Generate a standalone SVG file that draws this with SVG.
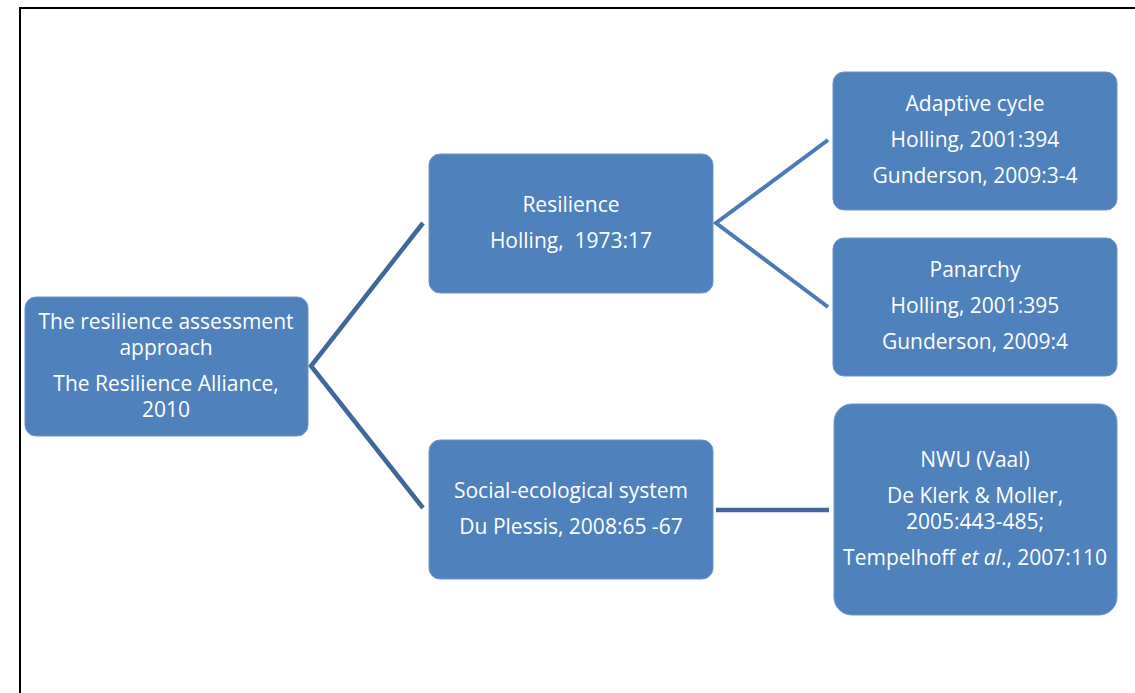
<svg xmlns="http://www.w3.org/2000/svg" width="1135" height="693" viewBox="0 0 1135 693">
<style>
.box{fill:#4f81bd;stroke:#6f95c8;stroke-width:1}
.t{font-family:"Open Sans","Liberation Sans",sans-serif;font-size:21px;fill:#ffffff;text-anchor:middle}
.c1{stroke:#41679a;stroke-width:4.5;fill:none;stroke-linejoin:miter}
.c2{stroke:#4a7ab8;stroke-width:4;fill:none}
</style>
<rect width="1135" height="693" fill="#ffffff"/>
<path d="M20 693 V8 H1135" fill="none" stroke="#000" stroke-width="2"/>
<g id="connectors">
<polyline class="c1" points="423,223 311,366 423,508"/>
<polyline class="c2" points="828,140 716,223 828,307"/>
<line class="c1" x1="716" y1="510" x2="829" y2="510"/>
</g>
<g id="root">
<rect class="box" x="25" y="297" width="283" height="139" rx="11"/>
<text class="t" x="166" y="329">The resilience assessment</text>
<text class="t" x="166" y="355">approach</text>
<text class="t" x="166" y="391">The Resilience Alliance,</text>
<text class="t" x="166" y="417">2010</text>
</g>
<g id="resilience">
<rect class="box" x="429" y="154" width="284" height="139" rx="11"/>
<text class="t" x="571" y="212">Resilience</text>
<text class="t" x="571" y="248" xml:space="preserve">Holling,  1973:17</text>
</g>
<g id="adaptive">
<rect class="box" x="833" y="72" width="284" height="138" rx="11"/>
<text class="t" x="975" y="111">Adaptive cycle</text>
<text class="t" x="975" y="147">Holling, 2001:394</text>
<text class="t" x="975" y="183">Gunderson, 2009:3-4</text>
</g>
<g id="panarchy">
<rect class="box" x="833" y="238" width="284" height="138" rx="11"/>
<text class="t" x="975" y="277">Panarchy</text>
<text class="t" x="975" y="313">Holling, 2001:395</text>
<text class="t" x="975" y="349">Gunderson, 2009:4</text>
</g>
<g id="social">
<rect class="box" x="429" y="440" width="284" height="139" rx="11"/>
<text class="t" x="571" y="498">Social-ecological system</text>
<text class="t" x="571" y="534">Du Plessis, 2008:65 -67</text>
</g>
<g id="nwu">
<rect class="box" x="834" y="404" width="283" height="211" rx="18"/>
<text class="t" x="975" y="467">NWU (Vaal)</text>
<text class="t" x="975" y="503">De Klerk &amp; Moller,</text>
<text class="t" x="975" y="529">2005:443-485;</text>
<text class="t" x="975" y="565">Tempelhoff <tspan font-style="italic">et al</tspan>., 2007:110</text>
</g>
</svg>
